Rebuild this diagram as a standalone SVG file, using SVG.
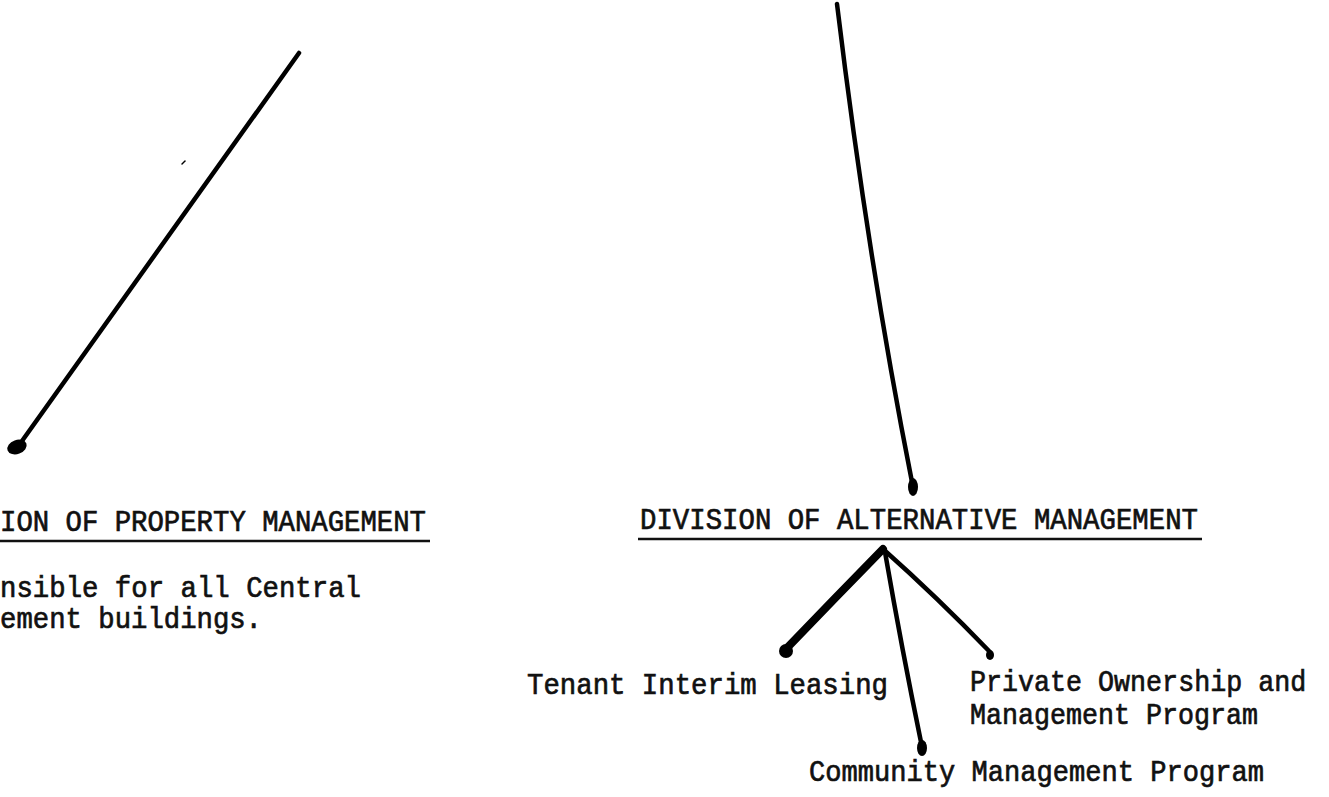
<svg xmlns="http://www.w3.org/2000/svg" width="1329" height="797" viewBox="0 0 1329 797">
<style>
  .t { font-family: "Liberation Mono", "Courier New", monospace; font-size: 30px; fill: #111; stroke: #111; stroke-width: 0.7px; }
  .ln { fill: none; stroke: #000; stroke-linecap: round; stroke-linejoin: round; }
  .ul { stroke: #111; stroke-width: 2.5; }
  .dot { fill: #000; }
</style>
<rect width="1329" height="797" fill="#fff"/>
<g id="connectors">
  <path class="ln" d="M299,53 L22,441" stroke-width="4.5"/>
  <ellipse class="dot" cx="17" cy="447" rx="10" ry="7" transform="rotate(-20 17 447)"/>
  <path class="ln" d="M182,164 L185,161" stroke-width="1.5"/>
  <path class="ln" d="M837,4 Q868,260 912,482" stroke-width="4.5"/>
  <ellipse class="dot" cx="913" cy="487" rx="5" ry="9"/>
  <path class="ln" d="M883,549 Q835,598 786,649" stroke-width="8"/>
  <ellipse class="dot" cx="786" cy="651" rx="7" ry="7"/>
  <path class="ln" d="M883,549 Q938,598 989,651" stroke-width="4.5"/>
  <ellipse class="dot" cx="990" cy="655" rx="4" ry="5"/>
  <path class="ln" d="M885,552 Q902,650 921,742" stroke-width="4.5"/>
  <ellipse class="dot" cx="922" cy="748" rx="5" ry="8"/>
</g>
<g id="division-property-management">
  <text class="t" x="0" y="531" textLength="426" lengthAdjust="spacingAndGlyphs">ION OF PROPERTY MANAGEMENT</text>
  <line class="ul" x1="0" y1="541" x2="430" y2="541"/>
  <text class="t" x="0" y="597" textLength="361" lengthAdjust="spacingAndGlyphs">nsible for all Central</text>
  <text class="t" x="0" y="628" textLength="262" lengthAdjust="spacingAndGlyphs">ement buildings.</text>
</g>
<g id="division-alternative-management">
  <text class="t" x="640" y="529" textLength="558" lengthAdjust="spacingAndGlyphs">DIVISION OF ALTERNATIVE MANAGEMENT</text>
  <line class="ul" x1="638" y1="539" x2="1202" y2="539"/>
</g>
<g id="tenant-interim-leasing">
  <text class="t" x="527" y="694" textLength="361" lengthAdjust="spacingAndGlyphs">Tenant Interim Leasing</text>
</g>
<g id="private-ownership">
  <text class="t" transform="translate(970 691) scale(0.89 1)" x="0" y="0">Private Ownership and</text>
  <text class="t" x="970" y="724" textLength="288" lengthAdjust="spacingAndGlyphs">Management Program</text>
</g>
<g id="community-management">
  <text class="t" x="809" y="781" textLength="455" lengthAdjust="spacingAndGlyphs">Community Management Program</text>
</g>
</svg>
